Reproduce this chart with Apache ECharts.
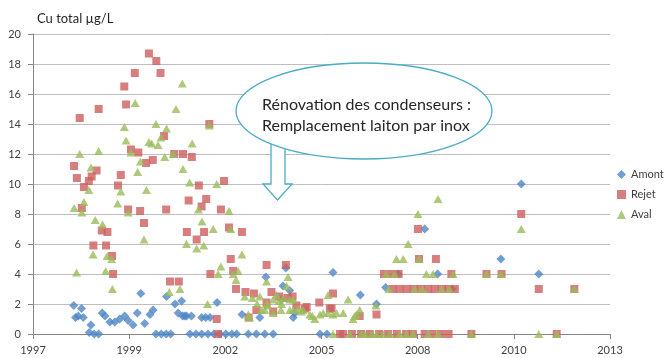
<!DOCTYPE html>
<html>
<head>
<meta charset="utf-8">
<title>Cu total</title>
<script src="https://cdn.jsdelivr.net/npm/echarts@6/dist/echarts.min.js"></script>
<style>
  html, body { margin: 0; padding: 0; background: #fff; }
  #chart { width: 669px; height: 358px; }
</style>
</head>
<body>
<div id="chart"></div>
<script>
// Copper concentration (µg/L) by sampling date, given as decimal years.
const seriesNames = ['Amont', 'Rejet', 'Aval'];

const amontPoints = [
  [1998.35,1.9],[1998.40,1.1],[1998.48,1.2],[1998.57,1.7],[1998.62,1.1],[1998.79,0.1],[1998.84,0.6],
  [1998.93,0],[1999.06,0],[1999.16,1.4],[1999.24,1.2],[1999.38,0.8],[1999.52,0.8],[1999.66,1.0],
  [1999.80,1.2],[1999.90,0.9],[2000.04,0.6],[2000.16,1.4],[2000.26,2.7],[2000.37,0.7],[2000.52,1.3],
  [2000.61,1.6],[2000.69,0],[2000.84,0],[2000.98,0],[2000.99,2.5],[2001.11,0],[2001.23,2.0],
  [2001.32,1.4],[2001.42,2.2],[2001.45,1.2],[2001.51,1.2],[2001.56,1.2],[2001.66,0],[2001.70,1.2],
  [2001.83,0],[2001.99,0],[2001.99,1.1],[2002.11,1.1],[2002.17,0],[2002.23,1.1],[2002.34,0],
  [2002.43,2.1],[2002.51,0],[2002.68,0],[2002.85,0],[2002.99,0],[2003.14,1.3],[2003.32,0],
  [2003.55,0],[2003.65,1.1],[2003.79,0],[2003.82,3.8],[2004.03,0],[2004.27,2.3],[2004.31,3.2],
  [2004.39,4.4],[2004.50,2.9],[2004.60,1.1],[2004.64,1.4],[2005.36,0],[2005.56,0],[2005.73,4.1],
  [2006.51,2.6],[2006.97,2.0],[2007.23,3.1],[2007.59,4.0],[2008.34,7.0],[2008.71,4.0],[2009.12,3.0],
  [2010.51,5.0],[2011.09,10.0],[2011.59,4.0]
];

const rejetPoints = [
  [1998.36,11.2],[1998.44,10.4],[1998.52,14.4],[1998.58,8.4],[1998.64,9.8],[1998.78,10.2],[1998.86,10.5],
  [1998.91,5.9],[1999.00,10.9],[1999.06,15.0],[1999.15,6.9],[1999.27,5.9],[1999.31,6.8],[1999.44,5.2],
  [1999.47,4.0],[1999.61,9.9],[1999.69,10.6],[1999.79,16.5],[1999.84,15.3],[1999.90,8.3],[1999.98,12.3],
  [2000.09,17.4],[2000.19,12.1],[2000.24,8.2],[2000.35,7.4],[2000.41,11.4],[2000.49,18.7],[2000.60,11.6],
  [2000.70,18.2],[2000.82,17.4],[2000.92,13.2],[2000.98,8.3],[2001.09,3.5],[2001.21,12.0],[2001.34,3.5],
  [2001.46,12.0],[2001.57,6.8],[2001.62,8.9],[2001.71,11.8],[2001.85,6.3],[2001.91,9.9],[2001.99,8.5],
  [2002.06,6.8],[2002.12,9.0],[2002.21,14.0],[2002.24,4.0],[2002.42,1.0],[2002.46,0],[2002.54,8.3],
  [2002.63,10.2],[2002.77,7.1],[2002.82,5.0],[2002.89,4.2],[2002.97,3.0],[2003.14,6.8],[2003.24,2.8],
  [2003.33,1.1],[2003.48,2.7],[2003.55,1.6],[2003.84,4.6],[2003.84,2.1],[2003.98,2.8],[2004.03,1.5],
  [2004.20,2.5],[2004.39,4.6],[2004.44,2.4],[2004.58,2.5],[2004.69,1.9],[2004.93,1.7],[2004.98,1.8],
  [2005.34,2.1],[2005.64,1.7],[2005.69,1.7],[2005.73,2.7],[2005.93,0],[2006.02,0],[2006.27,0],
  [2006.49,1.2],[2006.53,0],[2006.78,0],[2006.97,1.3],[2007.04,0],[2007.18,4.0],[2007.30,0],
  [2007.40,4.0],[2007.43,3.0],[2007.55,0],[2007.60,4.0],[2007.63,3.0],[2007.81,0],[2007.83,3.0],
  [2008.01,0],[2008.03,3.0],[2008.15,7.0],[2008.18,5.0],[2008.23,3.0],[2008.34,0],[2008.43,3.0],
  [2008.57,0],[2008.63,3.0],[2008.66,5.0],[2008.80,0],[2008.83,3.0],[2009.02,0],[2009.02,3.0],
  [2009.10,4.0],[2009.20,3.0],[2009.67,0],[2010.10,4.0],[2010.53,4.0],[2011.09,8.0],[2011.59,3.0],
  [2012.10,0],[2012.60,3.0]
];

const avalPoints = [
  [1998.36,8.4],[1998.43,4.1],[1998.52,12.0],[1998.58,8.1],[1998.64,8.8],[1998.78,9.6],[1998.84,11.1],
  [1998.90,5.3],[1998.96,7.6],[1999.06,12.2],[1999.17,7.3],[1999.26,4.2],[1999.30,5.2],[1999.43,5.0],
  [1999.45,3.0],[1999.60,8.7],[1999.69,9.5],[1999.79,13.8],[1999.84,12.9],[1999.90,8.1],[1999.98,12.1],
  [2000.10,15.4],[2000.17,10.8],[2000.25,11.5],[2000.35,6.3],[2000.42,9.6],[2000.49,12.8],[2000.57,12.7],
  [2000.69,14.0],[2000.75,12.6],[2000.83,13.1],[2000.94,11.8],[2000.99,13.7],[2001.07,2.8],[2001.18,12.0],
  [2001.26,15.0],[2001.37,3.0],[2001.44,16.7],[2001.46,11.0],[2001.56,6.0],[2001.65,10.1],[2001.72,12.7],
  [2001.85,5.7],[2001.90,8.3],[2002.00,7.5],[2002.05,5.9],[2002.16,2.0],[2002.21,13.9],[2002.32,7.0],
  [2002.42,10.0],[2002.46,4.0],[2002.54,4.5],[2002.77,8.2],[2002.82,7.0],[2002.89,4.0],[2002.97,3.6],
  [2003.03,4.2],[2003.14,5.3],[2003.22,2.5],[2003.32,1.3],[2003.36,1.1],[2003.44,2.4],[2003.57,2.0],
  [2003.65,2.5],[2003.70,1.6],[2003.79,1.6],[2003.84,3.5],[2003.84,2.0],[2003.88,1.9],[2004.03,2.3],
  [2004.03,1.4],[2004.12,2.6],[2004.20,2.2],[2004.25,1.6],[2004.27,2.0],[2004.31,2.4],[2004.41,3.2],
  [2004.45,3.8],[2004.50,1.6],[2004.50,2.3],[2004.60,1.6],[2004.60,2.3],[2004.74,1.7],[2004.83,1.5],
  [2004.88,1.6],[2005.07,1.3],[2005.14,1.2],[2005.21,1.0],[2005.36,1.3],[2005.45,1.4],[2005.59,2.6],
  [2005.59,1.4],[2005.73,1.3],[2005.73,0],[2005.83,1.4],[2006.02,1.4],[2006.16,2.3],[2006.21,0],
  [2006.30,1.0],[2006.35,1.2],[2006.40,1.3],[2006.49,1.6],[2006.54,0],[2006.64,0],[2006.83,0],
  [2006.95,1.9],[2006.97,0],[2007.16,0],[2007.25,4.0],[2007.32,3.0],[2007.35,0],[2007.49,4.0],
  [2007.54,5.0],[2007.63,0],[2007.73,5.0],[2007.82,0],[2007.87,6.0],[2008.01,0],[2008.06,3.0],
  [2008.15,8.0],[2008.18,5.0],[2008.28,3.0],[2008.39,4.0],[2008.44,0],[2008.58,4.0],[2008.72,9.0],
  [2008.72,0],[2008.82,3.0],[2009.05,3.0],[2009.15,4.0],[2009.67,0],[2010.10,4.0],[2010.51,4.0],
  [2011.09,7.0],[2011.59,0],[2012.10,0],[2012.60,3.0]
];

const yTicks = { min: 0, max: 20, step: 2 };
const axisTitle = 'Cu total µg/L';
const calloutLines = ['Rénovation des condenseurs :', 'Remplacement laiton par inox'];

// The date axis counts days from serial day 35500 (spreadsheet date numbering),
// with a tick every 1000 days, labelled with the year of that day.
const SERIAL_EPOCH = Date.UTC(1899, 11, 30);
const AXIS_ORIGIN_SERIAL = 35500;
const DAY_MS = 86400000;

function yearToAxis(decimalYear) {
  const y = Math.floor(decimalYear);
  const start = Date.UTC(y, 0, 1);
  const end = Date.UTC(y + 1, 0, 1);
  const t = start + (decimalYear - y) * (end - start);
  return (t - SERIAL_EPOCH) / DAY_MS - AXIS_ORIGIN_SERIAL;
}
function axisToYear(v) {
  return new Date(SERIAL_EPOCH + (v + AXIS_ORIGIN_SERIAL) * DAY_MS).getUTCFullYear();
}
const toSeriesData = pts => pts.map(p => [yearToAxis(p[0]), p[1]]);

const FONT = 'Lato, "Open Sans", sans-serif';
const colors = ['#4F86C6', '#CD5F5E', '#9BBB59'];

const chart = echarts.init(document.getElementById('chart'), null, { renderer: 'canvas' });

chart.setOption({
  animation: false,
  color: colors,
  textStyle: { fontFamily: FONT },
  grid: { left: 33, right: 59, top: 34, bottom: 24, containLabel: false },
  legend: {
    orient: 'vertical',
    left: 617,
    top: 169,
    padding: 0,
    itemGap: 9,
    itemWidth: 9,
    itemHeight: 9,
    data: seriesNames,
    textStyle: { fontFamily: FONT, fontSize: 11, color: '#404040' }
  },
  xAxis: {
    type: 'value',
    min: 0,
    max: 6000,
    interval: 1000,
    axisLine: { show: true, lineStyle: { color: '#868686', width: 1 } },
    axisTick: { show: true, length: 5, lineStyle: { color: '#868686' } },
    splitLine: { show: false },
    axisLabel: {
      margin: 11,
      fontFamily: FONT,
      fontSize: 11,
      color: '#404040',
      formatter: v => String(axisToYear(v))
    }
  },
  yAxis: {
    type: 'value',
    name: axisTitle,
    nameLocation: 'end',
    nameGap: 9,
    nameTextStyle: { fontFamily: FONT, fontSize: 13, color: '#262626', align: 'left', padding: [0, 0, 0, 4] },
    min: yTicks.min,
    max: yTicks.max,
    interval: yTicks.step,
    axisLine: { show: true, lineStyle: { color: '#868686', width: 1 } },
    axisTick: { show: true, length: 5, lineStyle: { color: '#868686' } },
    splitLine: { show: true, lineStyle: { color: '#BEBEBE', width: 1 } },
    axisLabel: { margin: 12, fontFamily: FONT, fontSize: 11, color: '#404040' }
  },
  series: [
    { name: seriesNames[0], type: 'scatter', symbol: 'diamond', symbolSize: 9,
      data: toSeriesData(amontPoints), z: 2 },
    { name: seriesNames[1], type: 'scatter', symbol: 'rect', symbolSize: 8,
      data: toSeriesData(rejetPoints), z: 3 },
    { name: seriesNames[2], type: 'scatter', symbol: 'triangle', symbolSize: [9, 8],
      data: toSeriesData(avalPoints), z: 4 }
  ],
  graphic: [
    {
      type: 'polygon',
      z: 100,
      shape: { points: [[271, 132], [285, 132], [285, 184], [292, 184], [277.5, 200], [263, 184], [271, 184]] },
      style: { fill: '#ffffff', stroke: '#4BACC6', lineWidth: 1.3 }
    },
    {
      type: 'ellipse',
      z: 101,
      shape: { cx: 364, cy: 111, rx: 128, ry: 48 },
      style: { fill: '#ffffff', stroke: '#4BACC6', lineWidth: 1.3 }
    },
    {
      type: 'text',
      z: 102,
      left: 262,
      top: 94,
      style: {
        text: calloutLines.join('\n'),
        font: '16px ' + FONT,
        fill: '#262626',
        lineHeight: 21.5
      }
    }
  ]
});
</script>
</body>
</html>
